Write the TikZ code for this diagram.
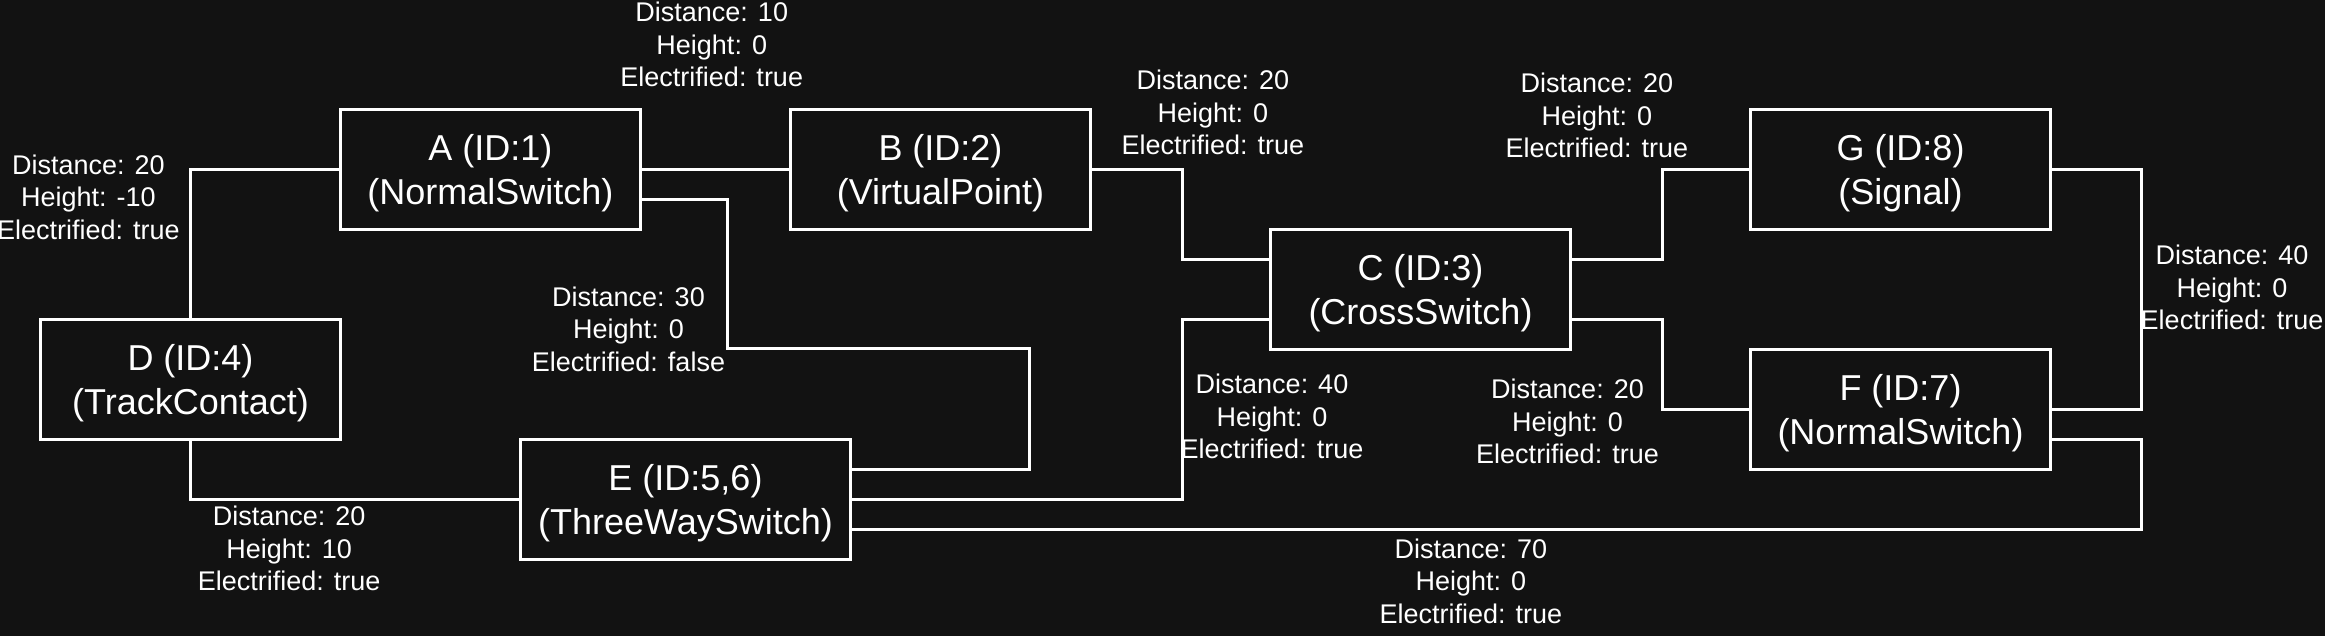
\documentclass[tikz,border=0pt]{standalone}
\usepackage{fontspec}
\setmainfont{Liberation Sans}
\definecolor{bgc}{HTML}{121212}
\begin{document}
\begin{tikzpicture}[x=1pt,y=-1pt,
  elem/.style={draw=white,line width=2pt,fill=bgc,minimum width=200pt,minimum height=80pt,inner sep=0pt,align=center,text=white,text depth=0pt,font=\fontsize{24}{29.7}\selectfont},
  lbl/.style={text=white,align=center,inner sep=0pt,font=\fontsize{18}{21.7}\selectfont},
  wire/.style={draw=white,line width=2pt}]
\fill[bgc] (0,0) rectangle (1550,424);
\useasboundingbox (0,0) rectangle (1550,424);
% nodes
\node[elem] (A) at (327,113) {A (ID:1)\\(NormalSwitch)};
\node[elem] (B) at (627,113) {B (ID:2)\\(VirtualPoint)};
\node[elem] (C) at (947,193) {C (ID:3)\\(CrossSwitch)};
\node[elem] (D) at (127,253) {D (ID:4)\\(TrackContact)};
\node[elem,minimum width=220pt] (E) at (457,333) {E (ID:5,6)\\(ThreeWaySwitch)};
\node[elem] (G) at (1267,113) {G (ID:8)\\(Signal)};
\node[elem] (F) at (1267,273) {F (ID:7)\\(NormalSwitch)};
% connectors
\draw[wire] (D.north) |- (A.west);
\draw[wire] (A.east) -- (B.west);
\draw[wire] ([yshift=-20pt]A.east) -| (485,232) -| (686,313) -- ([yshift=20pt]E.east);
\draw[wire] (B.east) -- ++(60,0) |- ([yshift=20pt]C.west);
\draw[wire] (E.east) -- ++(220,0) |- ([yshift=-20pt]C.west);
\draw[wire] ([yshift=20pt]C.east) -- ++(60,0) |- (G.west);
\draw[wire] ([yshift=-20pt]C.east) -- ++(60,0) |- (F.west);
\draw[wire] (G.east) -- ++(59.5,0) |- (F.east);
\draw[wire] ([yshift=-20pt]F.east) -- ++(59.5,0) |- ([yshift=-20pt]E.east);
\draw[wire] (D.south) |- (E.west);
% labels
\node[lbl] (lDA) at (59,131.5) {Distance: 20\\Height: -10\\Electrified: true};
\node[lbl] (lAB) at (474.5,29.7) {Distance: 10\\Height: 0\\Electrified: true};
\node[lbl] (lAE) at (419,219.5) {Distance: 30\\Height: 0\\Electrified: false};
\node[lbl] (lBC) at (808.6,75) {Distance: 20\\Height: 0\\Electrified: true};
\node[lbl] (lEC) at (848,277.8) {Distance: 40\\Height: 0\\Electrified: true};
\node[lbl] (lCG) at (1064.6,77) {Distance: 20\\Height: 0\\Electrified: true};
\node[lbl] (lCF) at (1045,281) {Distance: 20\\Height: 0\\Electrified: true};
\node[lbl] (lGF) at (1488,191.8) {Distance: 40\\Height: 0\\Electrified: true};
\node[lbl] (lFE) at (980.6,387.5) {Distance: 70\\Height: 0\\Electrified: true};
\node[lbl] (lDE) at (192.8,365.7) {Distance: 20\\Height: 10\\Electrified: true};
\end{tikzpicture}
\end{document}
